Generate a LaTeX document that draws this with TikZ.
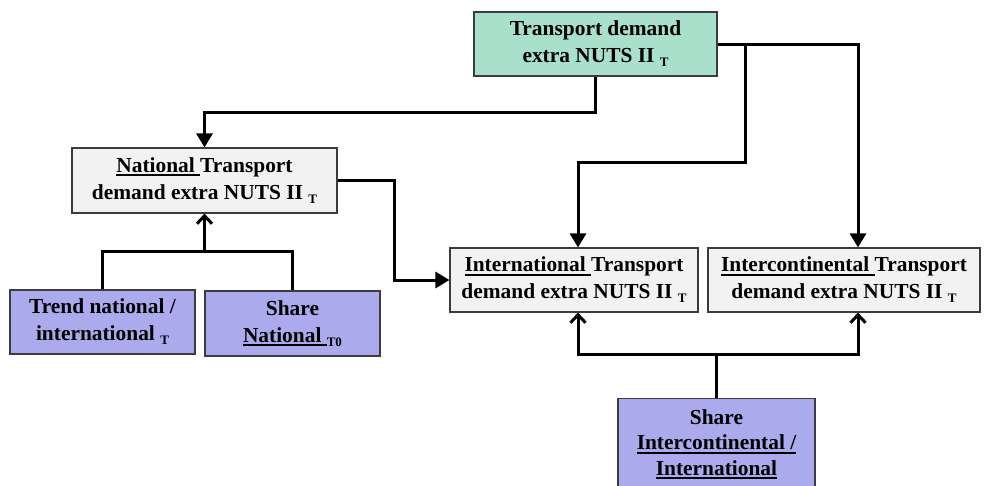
\documentclass[tikz,border=0pt]{standalone}
\usepackage{fontspec}
\setmainfont{Liberation Serif}
\usetikzlibrary{arrows.meta}

% underline that keeps the trailing space and sits a little low
\newcommand\undl[1]{\setbox0=\hbox{#1}\rlap{\rule[-3.6pt]{\wd0}{1.6pt}}\box0}
% small lowered index, e.g. the time index T
\newcommand\idx[1]{\raisebox{-4pt}{\fontsize{13}{13}\selectfont #1}}

\definecolor{mint}{RGB}{168,224,204}
\definecolor{lav}{RGB}{170,170,236}
\definecolor{paper}{RGB}{242,242,242}
\definecolor{edge}{RGB}{60,60,60}

\tikzset{
  box/.style={draw=edge, line width=1.1pt, inner sep=0pt, align=center,
    font=\bfseries\fontsize{21.4}{27}\selectfont},
  greenbox/.style={box, fill=mint},
  graybox/.style={box, fill=paper},
  bluebox/.style={box, fill=lav},
  link/.style={line width=3pt, black},
  arr/.style={link, -{Triangle[width=16pt,length=14pt]}},
  barb/.style={link, -{Straight Barb[width=15pt,length=8pt]}},
}

\begin{document}
\begin{tikzpicture}[x=1pt,y=-1pt]
  \useasboundingbox (0,0) rectangle (988,485);

  % boxes
  \node[greenbox, minimum width=243pt, minimum height=64pt] (top) at (595.5,44)
    {Transport demand\\extra NUTS II \idx{T}};
  \node[graybox, minimum width=265pt, minimum height=65pt] (nat) at (204.5,180.5)
    {\undl{National\ }Transport\\demand extra NUTS II \idx{T}};
  \node[bluebox, minimum width=185pt, minimum height=64pt] (trend) at (102.5,322)
    {Trend national /\\international \idx{T}};
  \node[bluebox, minimum width=175pt, minimum height=65pt] (shareN) at (292.5,323.5)
    {Share\\\undl{National\ }\idx{T0}};
  \node[graybox, minimum width=248pt, minimum height=64pt] (intl) at (574,280)
    {\undl{International\ }Transport\\demand extra NUTS II \idx{T}};
  \node[graybox, minimum width=272pt, minimum height=64pt] (interc) at (844,280)
    {\undl{Intercontinental\ }Transport\\demand extra NUTS II \idx{T}};
  \node[bluebox, minimum width=197pt, anchor=north, inner ysep=11pt,
        font=\bfseries\fontsize{21.4}{25.5}\selectfont] (shareI) at (716.5,398)
    {Share\\\undl{Intercontinental /}\\\undl{International}};

  % junction points of the branching connectors
  \coordinate (j1) at (745,44);
  \coordinate (j2) at (204.5,252);
  \coordinate (j3) at (716.5,354);

  % from the total demand to its three parts
  \draw[arr] (top.south) -- ++(0,36) -| (nat.north);
  \draw[arr] (top.east) -| ([xshift=14pt]interc.north);
  \draw[arr] (j1) -- ++(0,118) -| ([xshift=4pt]intl.north);

  % national demand feeds the international one
  \draw[arr] (nat.east) -- ++(57,0) |- (intl.west);

  % drivers of the national demand
  \draw[link] (trend.north) -- ++(0,-38) -| (shareN.north);
  \draw[barb] (j2) -- (nat.south);

  % split between international and intercontinental
  \draw[link] (shareI.north) -- (j3);
  \draw[barb] (j3) -| ([xshift=4pt]intl.south);
  \draw[barb] (j3) -| ([xshift=14pt]interc.south);
\end{tikzpicture}
\end{document}
